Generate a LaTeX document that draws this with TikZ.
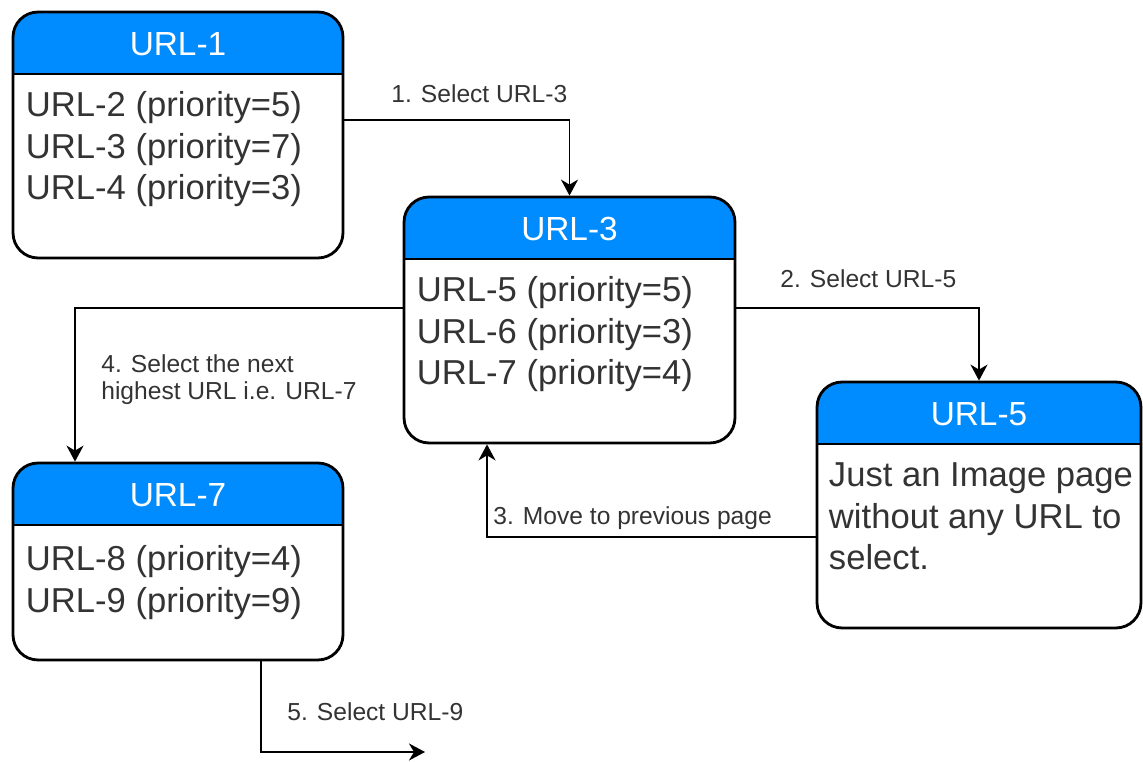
\documentclass[tikz,border=0pt]{standalone}
\usepackage{fontspec}
\setmainfont{Liberation Sans}
\usetikzlibrary{arrows.meta,calc}
\definecolor{hdrblue}{RGB}{0,140,255}
\definecolor{txtgray}{RGB}{51,51,51}
\tikzset{
	urlbox/.style={draw, line width=1.6pt, rounded corners=0.5cm, inner sep=0pt,
		path picture={
			\fill[hdrblue, sharp corners] (path picture bounding box.north west) rectangle ([yshift=-1.24cm]path picture bounding box.north east);
			\draw[line width=1.6pt, sharp corners] ([yshift=-1.24cm]path picture bounding box.north west) -- ([yshift=-1.24cm]path picture bounding box.north east);
		}},
	urltitle/.style={anchor=base, text=white, font=\fontsize{19}{23}\selectfont, inner sep=0pt},
	% anchored at the baseline of the last line
	urllist/.style={anchor=base west, align=left, text=txtgray, font=\fontsize{19.7}{23.6}\selectfont, inner sep=0pt},
	steplabel/.style={anchor=base west, align=left, text=txtgray, font=\fontsize{14}{15.9}\selectfont, inner sep=0pt},
	flow/.style={line width=1.1pt, -{Stealth[length=3.2mm,width=3.4mm,inset=1mm]}}
}

\begin{document}
\begin{tikzpicture}[x=0.02cm, y=0.02cm]
			%%%%% START %%%%%
			\useasboundingbox (0,0) rectangle (1143,761);
			
			% pages
			\node[urlbox, minimum width=6.6cm, minimum height=4.92cm] (url1) at (178,626) {};
			\node[urlbox, minimum width=6.62cm, minimum height=4.92cm] (url3) at (569.5,441) {};
			\node[urlbox, minimum width=6.48cm, minimum height=4.92cm] (url5) at (979,256) {};
			\node[urlbox, minimum width=6.6cm, minimum height=3.94cm] (url7) at (178,199.5) {};
			
			\node[urltitle] (url1title) at ([yshift=-0.9cm]url1.north) {URL-1};
			\node[urltitle] (url3title) at ([yshift=-0.9cm]url3.north) {URL-3};
			\node[urltitle] (url5title) at ([yshift=-0.9cm]url5.north) {URL-5};
			\node[urltitle] (url7title) at ([yshift=-0.9cm]url7.north) {URL-7};
			
			\node[urllist] (url1list) at ($(url1.north west)+(14,-189)$) {URL-2 (priority=5)\\URL-3 (priority=7)\\URL-4 (priority=3)};
			\node[urllist] (url3list) at ($(url3.north west)+(14,-189)$) {URL-5 (priority=5)\\URL-6 (priority=3)\\URL-7 (priority=4)};
			\node[urllist] (url5list) at ($(url5.north west)+(13,-189)$) {Just an Image page\\without any URL to\\select.};
			\node[urllist] (url7list) at ($(url7.north west)+(14,-150.6)$) {URL-8 (priority=4)\\URL-9 (priority=9)};
			
			% steps
			\draw[flow] ([yshift=0.3cm]url1.east) -| (url3.north);
			\draw[flow] ([yshift=0.24cm]url3.east) -| (url5.north);
			\draw[flow] ([yshift=-0.64cm]url5.west) -| ([xshift=-1.65cm]url3.south);
			\draw[flow] ([yshift=0.24cm]url3.west) -| ([xshift=-2.06cm]url7.north);
			\coordinate (next9) at (425,9);
			\draw[flow] ([xshift=1.66cm]url7.south) |- (next9);
			
			\node[steplabel] (step1) at (391,658) {1. Select URL-3};
			\node[steplabel] (step2) at (780,473) {2. Select URL-5};
			\node[steplabel] (step3) at (493,236) {3. Move to previous page};
			\node[steplabel] (step4) at (101,361) {4. Select the next\\highest URL i.e. URL-7};
			\node[steplabel] (step5) at (287,41) {5. Select URL-9};
			
			%%%%% END %%%%%
\end{tikzpicture}
\end{document}
